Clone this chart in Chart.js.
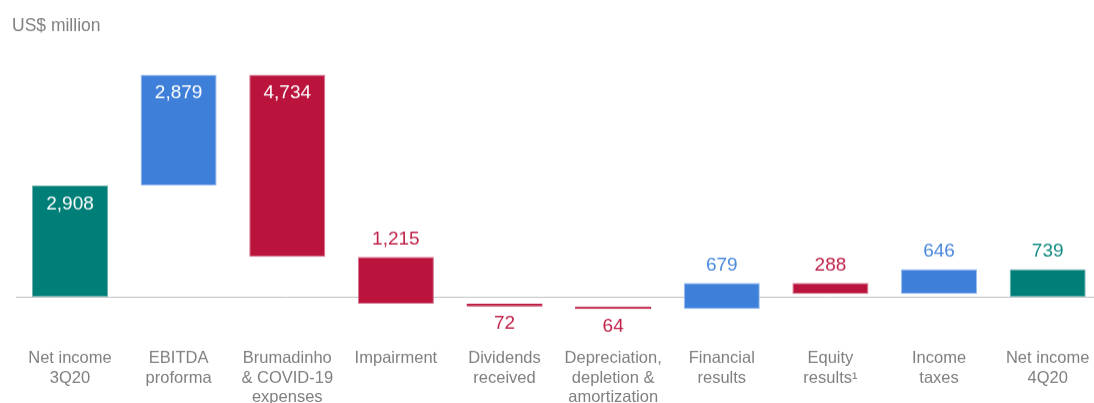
<!DOCTYPE html>
<html><head><meta charset="utf-8">
<script src="https://cdn.jsdelivr.net/npm/chart.js@4/dist/chart.umd.min.js"></script>
<style>
html,body{margin:0;padding:0;overflow:hidden;background:#fff;width:1094px;height:403px;}
#wrap{position:absolute;left:0;top:0;width:1102px;height:410.5px;}
</style></head><body>
<div id="wrap"><canvas id="c"></canvas></div>
<script>
const unitLabel = 'US$ million';
const categories = [
  ['Net income', '3Q20'],
  ['EBITDA', 'proforma'],
  ['Brumadinho', '& COVID-19', 'expenses'],
  ['Impairment'],
  ['Dividends', 'received'],
  ['Depreciation,', 'depletion &', 'amortization'],
  ['Financial', 'results'],
  ['Equity', 'results\u00B9'],
  ['Income', 'taxes'],
  ['Net income', '4Q20']
];
const values = [2908, 2879, -4734, -1215, -72, -64, 679, -288, 646, 739];
const isTotal = [true, false, false, false, false, false, false, false, false, true];

const FILL = { total: '#007E78', up: '#3E7FDA', down: '#BA133C' };
const EDGE = { total: '#6fb3ae', up: '#9cbeee', down: '#d9768f' };
const TEXT = { total: '#138a84', up: '#4a88dc', down: '#c0234a' };
const FONT = '"Liberation Sans", Arial, sans-serif';

const kind = values.map((v, i) => isTotal[i] ? 'total' : (v >= 0 ? 'up' : 'down'));
const floating = [];
let run = 0;
values.forEach((v, i) => {
  if (isTotal[i]) { floating.push([0, v]); run = v; }
  else { floating.push([run, run + v]); run += v; }
});

const labelPlugin = {
  id: 'valueLabels',
  afterDatasetsDraw(chart) {
    const ctx = chart.ctx, ys = chart.scales.y;
    const meta = chart.getDatasetMeta(0);
    ctx.save();
    ctx.font = '19px ' + FONT;
    ctx.textAlign = 'center';
    ctx.textBaseline = 'middle';
    meta.data.forEach((bar, i) => {
      const hi = Math.max(...floating[i]), lo = Math.min(...floating[i]);
      const top = ys.getPixelForValue(hi), bot = ys.getPixelForValue(lo);
      const txt = Math.abs(values[i]).toLocaleString('en-US');
      let y, color = TEXT[kind[i]];
      if (bot - top > 60) { y = top + 18.5; color = '#ffffff'; }
      else if (hi <= 0) { y = bot + 17; }
      else { y = top - 17.5; }
      ctx.fillStyle = color;
      ctx.fillText(txt, bar.x, y);
    });
    ctx.restore();
  },
  afterDraw(chart) {
    const ctx = chart.ctx;
    ctx.save();
    ctx.font = '17.5px ' + FONT;
    ctx.fillStyle = '#808080';
    ctx.textAlign = 'left';
    ctx.textBaseline = 'middle';
    ctx.fillText(unitLabel, 12, 26);
    ctx.restore();
  }
};

new Chart(document.getElementById('c'), {
  type: 'bar',
  data: {
    labels: categories,
    datasets: [{
      data: floating,
      backgroundColor: kind.map(k => FILL[k]),
      borderColor: kind.map((k, i) => Math.abs(values[i]) < 150 ? FILL[k] : EDGE[k]),
      borderWidth: 1,
      borderSkipped: false,
      categoryPercentage: 1,
      barPercentage: 0.70
    }]
  },
  options: {
    responsive: true,
    maintainAspectRatio: false,
    animation: false,
    layout: { padding: { left: 15.67, right: 0, top: 20, bottom: 0 } },
    plugins: { legend: { display: false }, tooltip: { enabled: false }, title: { display: false } },
    scales: {
      x: {
        grid: { display: false, drawTicks: false },
        border: { display: false },
        ticks: {
          autoSkip: false, maxRotation: 0, minRotation: 0, padding: 4,
          color: '#7f7f7f',
          font: { family: FONT, size: 16.5, lineHeight: 1.19 }
        }
      },
      y: {
        min: -1217, max: 7204,
        z: 1,
        afterBuildTicks: axis => { axis.ticks = [{ value: 0 }]; },
        ticks: { display: false },
        grid: { drawTicks: false, color: '#c0c0c0', lineWidth: 1 },
        border: { display: false }
      }
    }
  },
  plugins: [labelPlugin]
});
</script>
</body></html>
